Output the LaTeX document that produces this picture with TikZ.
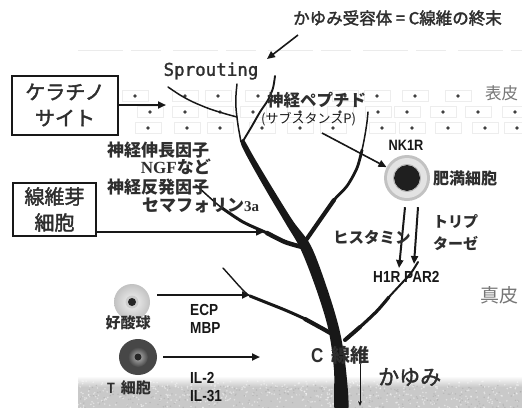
\documentclass[tikz,border=0pt]{standalone}
\usepackage{fontspec}
\setmainfont{Liberation Serif}
\newfontfamily\jp{Noto Sans CJK JP}
\newfontfamily\jpmed[FakeBold=2]{Noto Sans CJK JP}
\newfontfamily\narrowsans[FakeStretch=0.85]{Liberation Sans}
\newfontfamily\monosans[FakeBold=1.5]{DejaVu Sans Mono}
\usetikzlibrary{arrows.meta}

\definecolor{ink}{HTML}{181818}
\definecolor{softink}{HTML}{2E2E2E}
\definecolor{paletext}{HTML}{767676}

\tikzset{
  lbl/.style={inner sep=0pt, text=ink},
  jpl/.style={lbl, font=\jp\fontsize{#1}{#1}\selectfont},
  jpm/.style={lbl, text=softink, font=\jpmed\fontsize{#1}{#1}\selectfont},
  jpb/.style={lbl, text=softink, font=\jp\bfseries\fontsize{#1}{#1}\selectfont},
  latn/.style={lbl, font=\narrowsans\fontsize{#1}{#1}\selectfont},
  latnb/.style={lbl, font=\narrowsans\bfseries\fontsize{#1}{#1}\selectfont},
  cellbox/.style={draw=ink, line width=2pt, align=center, inner sep=0pt,
    font=\jpmed\fontsize{20}{26}\selectfont, text=softink},
  pointer/.style={draw=ink, line width=#1, -{Triangle[length=8pt,width=7pt]}},
  pointer/.default=1.6pt,
  fiber/.style={draw=ink, line width=#1, line cap=round, line join=round},
  cellspot/.style={circle, inner sep=0pt, minimum size=#1},
  brick/.style={draw=gray!14, line width=0.6pt},
}

\begin{document}
\begin{tikzpicture}[x=1pt, y=-1pt]
\useasboundingbox (0,0) rectangle (522,407);
\fill[white] (0,0) rectangle (522,407);

% ---------- deep tissue band ----------
\shade[top color=white, bottom color=gray!42] (78,376) rectangle (522,387);
\fill[gray!42] (78,387) rectangle (522,408);
\pgfmathsetseed{11}
\foreach \i in {1,...,500}{
  \pgfmathsetmacro\xx{78+444*rnd}
  \pgfmathsetmacro\yy{381+27*rnd}
  \fill[white, opacity=0.45] (\xx,\yy) circle (0.9pt);
}
\foreach \i in {1,...,250}{
  \pgfmathsetmacro\xx{78+444*rnd}
  \pgfmathsetmacro\yy{385+23*rnd}
  \fill[gray!70, opacity=0.5] (\xx,\yy) circle (0.8pt);
}

% ---------- skin surface ----------
\draw[gray!16, line width=1pt, dash pattern=on 45pt off 8pt on 30pt off 12pt]
  (78,50) -- (522,50);

% ---------- epidermis cells ----------
\foreach \x in {135,185,218,258,345,377,415,458}{
  \draw[brick] (\x-13,90.5) rectangle (\x+13,101.5);
  \fill[gray!50!black] (\x,96) circle (1.8pt);
}
\foreach \x in {150,185,220,253,300,340,378,407,443,478,515}{
  \draw[brick] (\x-13,106.5) rectangle (\x+13,117.5);
  \fill[gray!50!black] (\x,112) circle (1.8pt);
}
\foreach \x in {148,187,220,262,300,333,382,412,448,485,517}{
  \draw[brick] (\x-13,122.5) rectangle (\x+13,133.5);
  \fill[gray!50!black] (\x,128) circle (1.8pt);
}

% ---------- C fibre: trunk ----------
\fill[ink] plot[smooth cycle, tension=0.55] coordinates {
  (335,412) (334,370) (328.5,330) (316.5,290) (301,250) (286,224) (267,192)
  (250,162) (241,144) (243,139)
  (246,143) (255,159) (273,189) (293,221) (311,246) (327,288) (339.5,330)
  (346,370) (348,412)};

% branch toward the fibroblast signal
\draw[fiber=1.5pt] plot[smooth] coordinates {(302,247) (285,242) (267,233) (243,222) (222,208) (208,196) (196,185)};
\draw[fiber=3pt] plot[smooth] coordinates {(302,247) (285,242) (267,233) (243,222) (222,208)};
\draw[fiber=4.5pt] plot[smooth] coordinates {(302,247) (285,242) (267,233)};

% branch rising beside the mast cell
\draw[fiber=1.5pt] plot[smooth] coordinates {(304,243) (320,220) (334,200) (347,186) (357,168) (362,150) (365,135) (367,122) (368,112)};
\draw[fiber=2.8pt] plot[smooth] coordinates {(304,243) (320,220) (334,200) (347,186) (357,168) (362,150)};
\draw[fiber=4.2pt] plot[smooth] coordinates {(304,243) (320,220) (334,200)};

% sprouting endings in the epidermis
\draw[fiber=1.9pt] plot[smooth] coordinates {(243,141) (252,126) (260,112) (268,100) (273,88) (275,76)};
\draw[fiber=1.5pt] plot[smooth] coordinates {(241,142) (238,125) (236,108) (236,95) (237,84)};
\draw[fiber=1.5pt] plot[smooth] coordinates {(237,117) (226,114) (210,109) (193,102) (180,95) (168,87)};

% branch toward the eosinophil
\draw[fiber=1.4pt] plot[smooth] coordinates {(339,338) (325,330) (305,319) (285,310) (265,302) (250,296) (241,288) (232,278) (223,268)};
\draw[fiber=3pt] plot[smooth] coordinates {(339,338) (325,330) (305,319) (285,310) (265,302) (250,296)};
\draw[fiber=4.2pt] plot[smooth] coordinates {(339,338) (325,330) (305,319)};

% branch toward the H1R / PAR2 receptors
\draw[fiber=2pt] plot[smooth] coordinates {(345,340) (360,327) (377,311) (389,297) (401,284) (411,273) (418,262)};
\draw[fiber=3.2pt] plot[smooth] coordinates {(345,340) (360,327) (377,311) (389,297)};
\draw[fiber=4pt] plot[smooth] coordinates {(345,340) (360,327)};

% ---------- cells ----------
% mast cell
\fill[gray!48] (407,178) circle (23pt);
\fill[gray!22] (407,178) circle (20pt);
\fill[black!88] (407,178) circle (13pt);
\draw[gray!60, line width=0.8pt] (407,178) circle (13.5pt);
\node[cellspot=46pt] (mast) at (407,178) {};

% eosinophil
\shade[inner color=gray!8, outer color=gray!48] (132,302) circle (18pt);
\fill[gray!40] (132,302) circle (6.5pt);
\fill[black!85] (132,302) circle (4pt);
\node[cellspot=36pt] (eos) at (132,302) {};

% T cell
\fill[black!72] (138,357) circle [x radius=19pt, y radius=18pt];
\shade[inner color=gray!55, outer color=black!72] (138,357) circle (10pt);
\fill[black!85] (138,357) circle (3.5pt);
\node[cellspot=38pt] (tcell) at (138,357) {};

% ---------- labels ----------
\node[jpm=16.5, anchor=west] (title) at (293,18) {かゆみ受容体\ =\ C線維の終末};
\coordinate (titleTail) at (298,35);
\coordinate (titleTip) at (267,59);
\draw[pointer=1.6pt] (titleTail) -- (titleTip);

\node[lbl, text=softink, font=\monosans\fontsize{17.5}{17.5}\selectfont] (sprout) at (211,71) {Sprouting};

\node[cellbox, minimum width=106pt, minimum height=59pt] (kera) at (65,105) {ケラチノ\\サイト};
\coordinate (keraTip) at (166,105);
\draw[pointer=2pt] (kera.east) -- (keraTip);

\node[lbl, font=\jp\fontsize{16.5}{16.5}\selectfont, text=paletext, anchor=west] (epi) at (485,93) {表皮};

\node[jpb=16.5, anchor=west] (pept) at (267,100) {神経ペプチド};
\node[jpl=13, anchor=west] (subp) at (261,119) {(サブスタンスP)};
\coordinate (peptTail) at (322,133);
\draw[pointer=1.6pt] (peptTail) -- (mast);

\node[latnb=15] (nk) at (406,145) {NK1R};
\node[jpb=16, anchor=west] (mastlbl) at (433,178) {肥満細胞};

\node[jpb=17, anchor=west] (ngrow) at (107,150) {神経伸長因子};
\node[lbl, text=softink, anchor=east] (ngf) at (211,167) {{\bfseries\fontsize{17}{17}\selectfont NGF}{\jp\bfseries\fontsize{17}{17}\selectfont など}};
\node[jpb=17, anchor=west] (nrep) at (107,187) {神経反発因子};
\node[lbl, text=softink, anchor=west] (sema) at (142,205) {{\jp\bfseries\fontsize{17}{17}\selectfont セマフォリン}{\bfseries\fontsize{15}{15}\selectfont 3a}};

\node[cellbox, minimum width=83pt, minimum height=53pt] (fibro) at (54.5,209.5) {線維芽\\細胞};
\coordinate (fibroTail) at (96,232);
\coordinate (fibroTip) at (264,232);
\draw[pointer=1.5pt] (fibroTail) -- (fibroTip);

\coordinate (hisTip) at (399,268);
\coordinate (trpTip) at (414,264);
\draw[pointer=2pt] ([xshift=-2pt,yshift=-6pt]mast.south) -- (hisTip);
\draw[pointer=2pt] ([xshift=11pt,yshift=-6pt]mast.south) -- (trpTip);
\node[jpb=15.5, anchor=west] (hist) at (333,238) {ヒスタミン};
\node[jpb=15, anchor=west] (tryp1) at (433,222) {トリプ};
\node[jpb=15, anchor=west] (tryp2) at (433,243) {ターゼ};
\node[latnb=16, anchor=west] (recep) at (373,277) {H1R PAR2};

\node[lbl, font=\jp\fontsize{19}{19}\selectfont, text=paletext, anchor=west] (derm) at (480,295) {真皮};

\node[jpb=15] (eoslbl) at (128,323) {好酸球};
\coordinate (eosTail) at (157,295);
\coordinate (eosTip) at (250,295);
\draw[pointer=2.2pt] (eosTail) -- (eosTip);
\node[latnb=16, anchor=west] (ecp) at (190,310) {ECP};
\node[latnb=16, anchor=west] (mbp) at (190,328) {MBP};

\node[lbl, text=softink] (tlbl) at (129,388) {{\narrowsans\bfseries\fontsize{15}{15}\selectfont T}\hspace{6pt}{\jp\bfseries\fontsize{15}{15}\selectfont 細胞}};
\coordinate (tTail) at (163,357);
\coordinate (tTip) at (260,357);
\draw[pointer=2.5pt] (tTail) -- (tTip);
\node[latnb=16, anchor=west] (il2) at (190,378) {IL-2};
\node[latnb=16, anchor=west] (il31) at (190,396) {IL-31};

\node[lbl, text=softink, anchor=west] (cfib) at (311,355) {{\narrowsans\bfseries\fontsize{20}{20}\selectfont C}\hspace{8pt}{\jp\bfseries\fontsize{19}{19}\selectfont 線維}};
\node[jpm=21, anchor=west] (itch) at (378,377) {かゆみ};
\coordinate (itchTail) at (360,364);
\coordinate (itchTip) at (360,406);
\draw[ink, line width=0.9pt, -{Stealth[length=5pt,width=4pt]}] (itchTail) -- (itchTip);

\end{tikzpicture}
\end{document}
